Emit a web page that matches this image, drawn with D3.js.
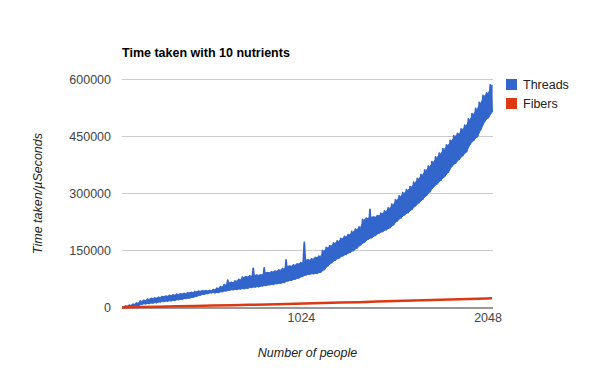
<!DOCTYPE html>
<html lang="en">

<head>
    <meta charset="UTF-8">
    <title>Time taken with 10 nutrients</title>
    <script src="https://d3js.org/d3.v7.min.js"></script>
    <style>
        body {
            margin: 0;
            background: #fff;
        }

        text {
            font-family: Arial, "Liberation Sans", sans-serif;
        }

        .grid {
            stroke: #ccc;
            stroke-width: 1;
        }

        .tick-label {
            font-size: 12.5px;
            fill: #444;
        }

        .axis-title {
            font-size: 12.5px;
            font-style: italic;
            fill: #222;
        }
    </style>
</head>

<body>
    <svg width="600" height="371"></svg>

    <script>
        // values in thousands of microseconds, one per people count (40, 50, ... 2070)
        const people = d3.range(40, 2080, 10);
        const threads = [
            1, 0, 4, 1, 6, 2, 9, 4, 12, 5,
            17, 9, 19, 10, 22, 11, 24, 12, 25, 13,
            27, 15, 29, 16, 30, 17, 32, 18, 33, 19,
            35, 21, 36, 22, 37, 24, 39, 25, 40, 27,
            42, 30, 43, 33, 44, 35, 44, 37, 45, 39,
            47, 39, 51, 40, 55, 42, 60, 44, 72, 46,
            66, 47, 70, 48, 74, 49, 80, 50, 81, 51,
            83, 53, 103, 54, 85, 55, 86, 57, 104, 58,
            92, 60, 94, 61, 96, 63, 99, 64, 102, 66,
            125, 70, 109, 72, 112, 75, 115, 78, 118, 82,
            171, 86, 125, 88, 128, 89, 132, 90, 135, 93,
            150, 100, 158, 110, 163, 118, 170, 125, 175, 130,
            182, 136, 187, 140, 192, 145, 200, 150, 206, 157,
            212, 165, 232, 172, 235, 180, 258, 184, 238, 190,
            242, 196, 248, 200, 254, 205, 262, 210, 272, 218,
            284, 228, 294, 236, 302, 244, 310, 250, 318, 258,
            330, 268, 340, 276, 350, 285, 362, 295, 372, 305,
            384, 318, 396, 326, 406, 335, 418, 345, 428, 356,
            440, 372, 452, 380, 458, 390, 470, 400, 480, 410,
            496, 430, 510, 440, 524, 450, 540, 470, 558, 490,
            565, 500, 586, 514
        ];

        const fibersPeople = [40, 140, 240, 340, 440, 540, 640, 740, 840, 940, 1040,
            1140, 1240, 1340, 1440, 1540, 1640, 1740, 1840, 1940, 2040, 2070];
        const fibers = [0, 1, 2, 3, 4, 5, 6, 7, 8, 9.5, 10.5,
            12, 13, 14, 16, 17, 18.5, 20, 21, 22.5, 24, 24.5];

        const yTicks = [0, 150, 300, 450, 600];
        const yTickLabels = ["0", "150000", "300000", "450000", "600000"];
        const xTicks = [1024, 2048];
        const seriesNames = ["Threads", "Fibers"];
        const seriesColors = ["#3366cc", "#dc3912"];

        const svg = d3.select("svg");

        const x = d3.scaleLinear().domain([40, 2075]).range([122, 493]);
        const y = d3.scaleLinear().domain([0, 600]).range([307.5, 79.5]);

        // title
        svg.append("text")
            .attr("x", 122)
            .attr("y", 57)
            .style("font-size", "12.5px")
            .style("font-weight", "bold")
            .attr("fill", "#000")
            .text("Time taken with 10 nutrients");

        // gridlines + y labels
        svg.selectAll(".grid")
            .data(yTicks.slice(1))
            .enter().append("line")
            .attr("class", "grid")
            .attr("x1", 122)
            .attr("x2", 493)
            .attr("y1", d => y(d))
            .attr("y2", d => y(d));

        svg.selectAll(".ylab")
            .data(yTicks)
            .enter().append("text")
            .attr("class", "tick-label ylab")
            .attr("x", 111)
            .attr("y", d => y(d) + 4.5)
            .attr("text-anchor", "end")
            .text((d, i) => yTickLabels[i]);

        // x labels
        svg.selectAll(".xlab")
            .data(xTicks)
            .enter().append("text")
            .attr("class", "tick-label xlab")
            .attr("x", d => x(d))
            .attr("y", 322)
            .attr("text-anchor", "middle")
            .attr("fill", "#333")
            .text(d => d);

        // threads: the line swings so fast it reads as a solid band,
        // so fill under each dip up to the lower of its two peaks
        const valleys = d3.range(1, threads.length, 2);
        const band = d3.area()
            .x(j => x(people[j]))
            .y0(j => y(threads[j]))
            .y1(j => y(Math.min(threads[j - 1], threads[j + 1] ?? threads[j - 1])));

        svg.append("path")
            .datum(valleys)
            .attr("d", band)
            .attr("fill", seriesColors[0])
            .attr("stroke", seriesColors[0])
            .attr("stroke-width", 1);

        const line = d3.line()
            .x(d => x(d[0]))
            .y(d => y(d[1]));

        svg.append("path")
            .datum(people.map((p, i) => [p, threads[i]]))
            .attr("d", line)
            .attr("fill", "none")
            .attr("stroke", seriesColors[0])
            .attr("stroke-width", 1.8)
            .attr("stroke-linejoin", "round");

        // baseline
        svg.append("line")
            .attr("x1", 122)
            .attr("x2", 493)
            .attr("y1", y(0) + 0.5)
            .attr("y2", y(0) + 0.5)
            .attr("stroke", "#333");

        svg.append("path")
            .datum(fibersPeople.map((p, i) => [p, fibers[i]]))
            .attr("d", line)
            .attr("fill", "none")
            .attr("stroke", seriesColors[1])
            .attr("stroke-width", 2.5);

        // legend
        const legend = svg.selectAll(".legend")
            .data(seriesNames)
            .enter().append("g")
            .attr("class", "legend")
            .attr("transform", (d, i) => `translate(506,${79 + i * 19})`);

        legend.append("rect")
            .attr("width", 11)
            .attr("height", 11)
            .attr("fill", (d, i) => seriesColors[i]);

        legend.append("text")
            .attr("x", 17)
            .attr("y", 10)
            .style("font-size", "12.5px")
            .attr("fill", "#222")
            .text(d => d);

        // axis titles
        svg.append("text")
            .attr("class", "axis-title")
            .attr("x", 307.5)
            .attr("y", 357)
            .attr("text-anchor", "middle")
            .text("Number of people");

        svg.append("text")
            .attr("class", "axis-title")
            .attr("transform", "translate(42,193.5) rotate(-90)")
            .attr("text-anchor", "middle")
            .text("Time taken/µSeconds");
    </script>
</body>

</html>
